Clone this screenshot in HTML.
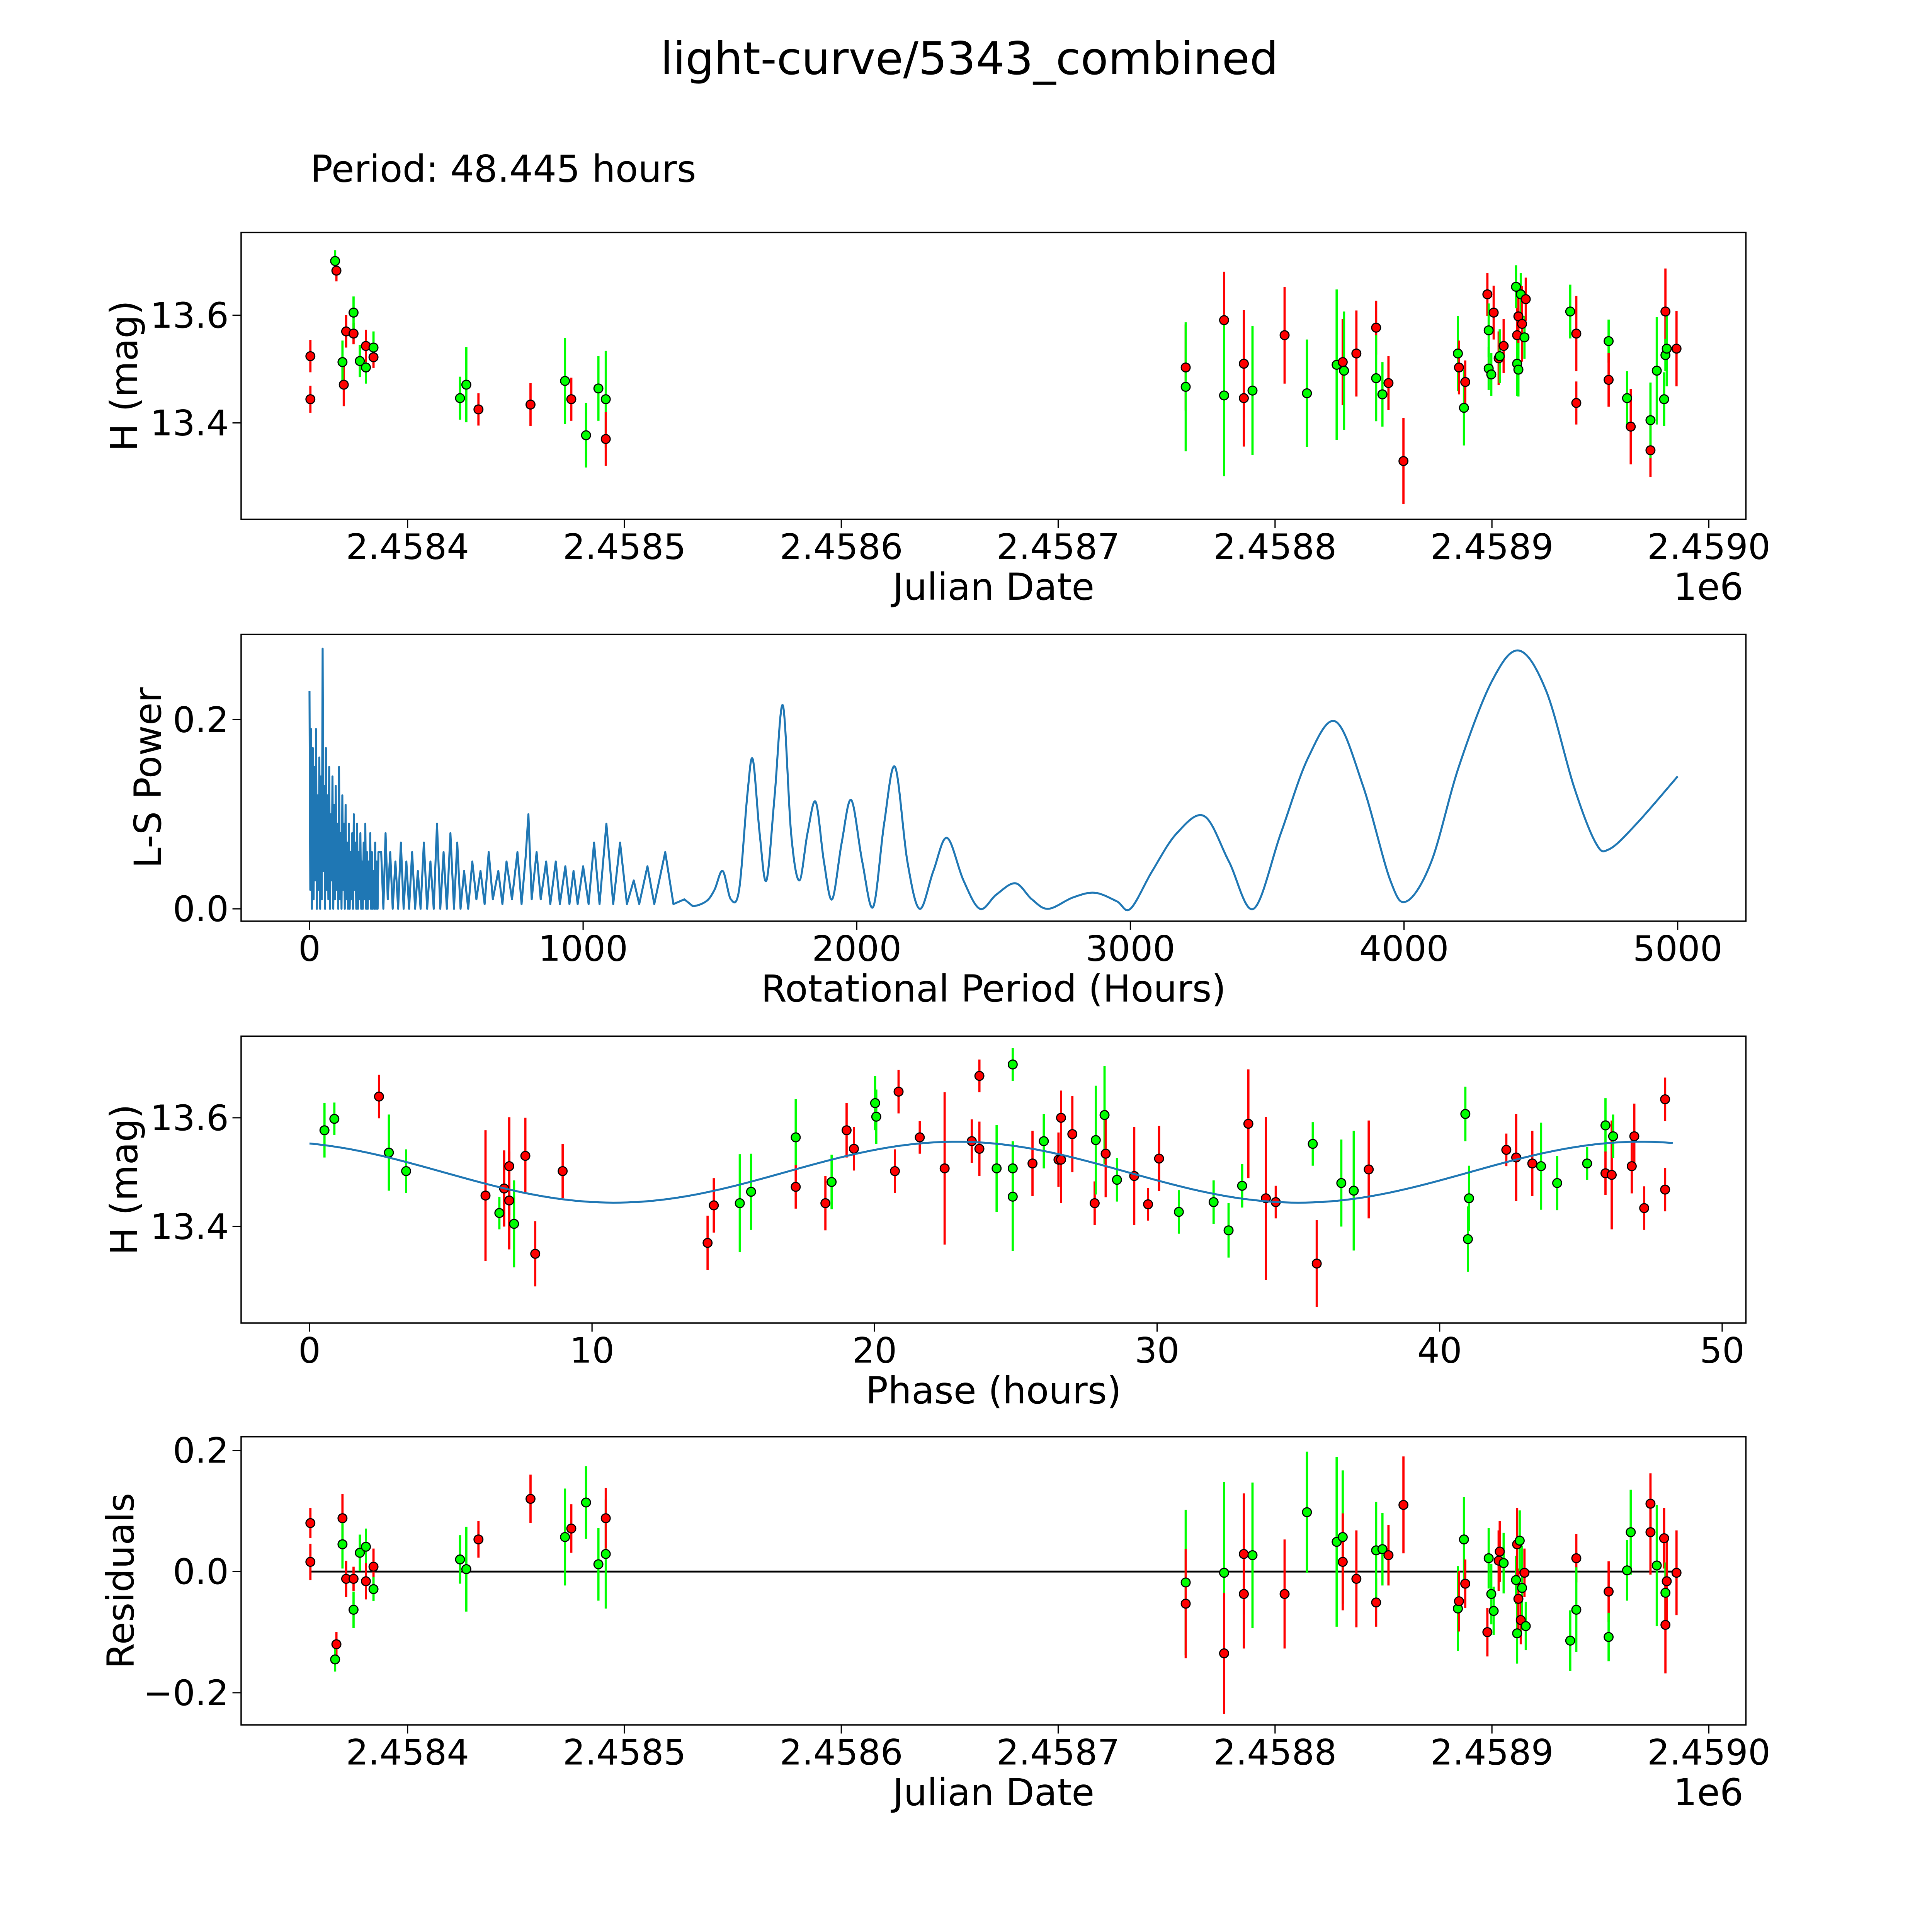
<!DOCTYPE html>
<html><head><meta charset="utf-8"><style>
html,body{margin:0;padding:0;background:#fff;overflow:hidden;width:100vw;height:100vh;}
svg{display:block;position:absolute;left:0;top:0;width:100vw;height:100vh;font-family:"DejaVu Sans","Liberation Sans",sans-serif;}
</style></head><body>
<svg id="fig" viewBox="0 0 1562.5 1562.5" preserveAspectRatio="none" xmlns="http://www.w3.org/2000/svg">
<rect width="1562.5" height="1562.5" fill="#fff"/>
<text x="784" y="60" font-size="36.5" text-anchor="middle">light-curve/5343_combined</text>
<text x="251" y="147" font-size="30">Period: 48.445 hours</text>
<g id="p1"></g>
<g id="p2"></g>
<g id="p3"></g>
<g id="p4"></g>
</svg>
<script>
// ---- Light curve data (days since JD 2458400) ----
const lcDate=[-44.8,-44.8,-33.4,-32.8,-29.4,-30.0,-28.3,-24.9,-24.9,-22.0,-19.2,-19.2,-15.7,-15.7,24.2,27.1,32.7,56.7,72.6,75.5,82.3,88.0,91.4,91.4,
358.8,358.8,376.5,376.5,385.6,385.6,389.6,404.4,414.7,428.4,431.2,431.8,437.5,446.6,446.6,449.5,452.3,459.2,484.3,484.8,487.1,487.7,497.9,498.5,498.5,499.7,500.8,503.1,503.6,505.4,511.1,511.6,511.6,512.2,512.2,513.3,513.9,515.0,515.6,536.1,538.9,538.9,553.8,553.8,562.3,564.0,573.1,573.1,576.0,579.4,580.0,580.0,580.6,585.1];
const lcMag=[13.524,13.444,13.701,13.683,13.471,13.513,13.570,13.566,13.605,13.515,13.503,13.543,13.540,13.522,13.446,13.471,13.425,13.434,13.478,13.444,13.377,13.464,13.444,13.370,
13.503,13.467,13.591,13.451,13.510,13.446,13.460,13.563,13.455,13.508,13.513,13.497,13.529,13.577,13.483,13.453,13.474,13.329,13.529,13.503,13.428,13.476,13.639,13.572,13.501,13.490,13.605,13.520,13.524,13.543,13.653,13.563,13.510,13.598,13.499,13.639,13.584,13.559,13.630,13.607,13.566,13.437,13.552,13.480,13.446,13.393,13.349,13.405,13.497,13.444,13.607,13.526,13.538,13.538];
const lcErr=[0.03,0.025,0.02,0.02,0.04,0.04,0.03,0.02,0.03,0.03,0.03,0.03,0.03,0.02,0.04,0.07,0.03,0.04,0.08,0.04,0.06,0.06,0.09,0.05,
0.08,0.12,0.09,0.15,0.1,0.09,0.12,0.09,0.1,0.14,0.08,0.11,0.08,0.05,0.08,0.06,0.05,0.08,0.07,0.05,0.07,0.04,0.04,0.05,0.04,0.04,0.05,0.05,0.05,0.05,0.04,0.05,0.06,0.05,0.05,0.04,0.07,0.04,0.04,0.05,0.07,0.04,0.04,0.05,0.05,0.07,0.05,0.07,0.1,0.05,0.08,0.03,0.07,0.07];
const lcBand="rrgrrgrrgggrgrggrrgrgggr" + "rgrgrrgrggrgrrggrrgrgrrgggrrgrgrgrggrgrgrrgrgrrgggrgg";

// ---- Periodogram ----
const lsPeriod=[0,3,6,9,12,15,18,21,24,27,30,33,36,39,42,45,48,51,54,57,60,63,66,69,72,75,78,81,84,87,90,93,96,99,102,105,108,111,114,117,120,123,126,129,132,135,138,141,144,147,150,153,156,159,162,165,168,171,174,177,180,183,186,189,192,195,198,201,204,207,210,213,216,219,222,225,228,231,234,237,240,243,246,249,252,
262,270,278,286,295,304,314,324,334,344,354,364,375,386,396,406,418,430,442,454,466,478,490,502,515,528,540,552,565,580,595,610,625,640,655,670,690,705,720,740,760,775,790,800,812,830,845,865,880,900,915,935,950,965,980,1000,1020,1040,1060,1085,1110,1135,1160,1185,1205,1235,1260,1300,1330,1370,1400,
1450,1480,1510,1540,1570,1600,1620,1645,1670,1700,1730,1760,1790,1820,1850,1880,1910,1945,1980,2020,2060,2100,2140,2185,2230,2280,2330,2390,2450,2510,2580,2640,2700,2790,2870,2950,3000,3080,3170,3270,3360,3450,3550,3650,3750,3850,3950,4010,4100,4200,4320,4420,4520,4620,4700,4750,4850,5000];
const lsPower=[0.23,0.02,0.19,0,0.17,0.01,0.15,0.03,0.19,0,0.12,0.02,0.16,0,0.14,0.01,0.275,0.04,0.13,0,0.17,0.02,0.12,0.01,0.15,0,0.1,0.03,0.14,0,0.11,0.01,0.13,0.02,0.09,0,0.15,0.01,0.08,0,0.12,0.02,0.09,0,0.11,0.01,0.07,0,0.09,0,0.06,0.01,0.08,0,0.1,0.02,0.07,0,0.09,0,0.06,0.01,0.08,0,0.05,0,0.07,0.01,0.09,0,0.06,0,0.05,0.01,0.08,0,0.06,0,0.04,0,0.07,0,0.05,0,0.06,
0.06,0,0.08,0.01,0.06,0,0.05,0,0.07,0,0.05,0,0.06,0,0.04,0,0.07,0,0.05,0,0.09,0,0.06,0,0.08,0,0.07,0,0.04,0,0.05,0.01,0.04,0.005,0.06,0.01,0.04,0.005,0.05,0.01,0.06,0.005,0.055,0.1,0.01,0.06,0.01,0.05,0.005,0.05,0.005,0.045,0.005,0.04,0.005,0.045,0.005,0.07,0.005,0.09,0.005,0.07,0.005,0.03,0.005,0.045,0.005,0.06,0.005,0.01,0.003,
0.008,0.02,0.04,0.01,0.02,0.12,0.158,0.08,0.03,0.12,0.215,0.08,0.03,0.08,0.113,0.05,0.01,0.07,0.115,0.05,0.002,0.09,0.15,0.05,0.0,0.04,0.075,0.03,0.0,0.015,0.027,0.01,0.0,0.012,0.017,0.008,0.0,0.04,0.08,0.098,0.05,0.0,0.08,0.16,0.198,0.13,0.03,0.008,0.05,0.15,0.24,0.273,0.23,0.13,0.07,0.063,0.09,0.14];
const lsTicksX=[0,1000,2000,3000,4000,5000];
const lsTicksY=[0.0,0.2];

// ---- Phase folded ----
const phTime=[0.53,0.88,2.46,2.81,3.42,6.23,6.72,6.89,7.07,7.07,7.24,7.64,7.99,8.96,14.09,14.31,15.23,15.63,17.21,17.21,18.26,18.48,19.01,19.27,20.02,20.06,20.72,20.85,21.60,22.48,23.44,23.71,23.71,24.32,24.89,24.89,24.89,25.59,25.99,26.51,26.60,26.60,27.0,27.79,27.83,28.14,28.18,28.58,29.19,29.68,30.07,30.77,32.0,32.53,33.01,33.23,33.85,34.20,35.65,35.51,36.52,36.96,37.49,40.91,41.0,41.04,42.36,42.71,43.28,43.59,44.16,45.22,45.87,45.87,46.09,46.14,46.80,46.89,47.24,47.98,47.98];
const phMag=[13.577,13.598,13.639,13.536,13.502,13.457,13.425,13.470,13.511,13.448,13.405,13.530,13.350,13.502,13.370,13.439,13.443,13.464,13.564,13.473,13.443,13.482,13.577,13.543,13.627,13.602,13.502,13.648,13.564,13.507,13.557,13.677,13.543,13.507,13.698,13.507,13.455,13.516,13.557,13.523,13.600,13.523,13.570,13.443,13.559,13.605,13.534,13.486,13.493,13.441,13.525,13.427,13.445,13.393,13.475,13.589,13.452,13.445,13.332,13.552,13.480,13.466,13.505,13.607,13.377,13.452,13.541,13.527,13.516,13.511,13.480,13.516,13.586,13.498,13.495,13.566,13.511,13.566,13.434,13.468,13.634];
const phErr=[0.05,0.03,0.04,0.07,0.04,0.12,0.03,0.07,0.09,0.09,0.08,0.07,0.06,0.05,0.05,0.05,0.09,0.07,0.07,0.04,0.05,0.05,0.05,0.04,0.05,0.05,0.04,0.04,0.03,0.14,0.04,0.03,0.05,0.08,0.03,0.05,0.1,0.06,0.05,0.05,0.05,0.08,0.07,0.04,0.1,0.09,0.08,0.04,0.09,0.03,0.06,0.04,0.04,0.05,0.04,0.1,0.15,0.03,0.08,0.04,0.08,0.11,0.09,0.05,0.06,0.06,0.03,0.08,0.06,0.08,0.05,0.03,0.05,0.04,0.1,0.04,0.05,0.06,0.04,0.04,0.04];
const phBand="ggrggrgrrrgrrrrrgggrrgrrggrrrrrrrggggrgrrrrrggrgrrrggggrrrrgggrgggrrrggggrrgrrr".padEnd(81,"r");
const modelMean=[13.5], modelAmp=[0.056], modelPeak=[22.9], modelHalfPeriod=[24.22], modelMaxPhase=[48.445];

// ---- Residuals ----
const resDate=[-44.8,-44.8,-32.8,-33.4,-30.0,-30.0,-28.3,-24.9,-24.9,-22.0,-19.2,-19.2,-15.7,-15.7,24.2,27.1,32.7,56.7,72.6,75.5,82.3,88.0,91.4,91.4,
358.8,358.8,376.5,376.5,385.6,385.6,389.6,404.4,414.7,428.4,431.2,431.2,437.5,446.6,446.6,449.5,452.3,459.2,484.3,484.8,487.1,487.7,497.9,498.5,499.7,500.8,503.1,503.6,505.4,511.1,511.6,511.6,512.2,512.8,513.3,513.9,515.0,515.6,536.1,538.9,538.9,553.8,553.8,562.3,564.0,573.1,573.1,576.0,579.4,580.0,580.0,580.6,585.1];
const resVal=[0.080,0.016,-0.120,-0.145,0.088,0.045,-0.012,-0.012,-0.063,0.031,0.041,-0.016,0.008,-0.029,0.020,0.004,0.053,0.120,0.057,0.071,0.114,0.012,0.029,0.088,
-0.018,-0.053,-0.002,-0.135,0.029,-0.037,0.027,-0.037,0.098,0.049,0.057,0.016,-0.012,-0.051,0.035,0.037,0.027,0.110,-0.061,-0.049,0.053,-0.020,-0.100,0.022,-0.037,-0.065,0.018,0.033,0.014,-0.014,-0.102,0.045,-0.045,0.051,-0.080,-0.027,-0.002,-0.090,-0.114,0.022,-0.063,-0.033,-0.108,0.002,0.065,0.112,0.065,0.010,0.055,-0.035,-0.088,-0.016,-0.002];
const resErr=[0.025,0.03,0.02,0.02,0.04,0.04,0.03,0.02,0.03,0.03,0.03,0.03,0.03,0.02,0.04,0.07,0.03,0.04,0.08,0.04,0.06,0.06,0.09,0.05,
0.12,0.09,0.15,0.1,0.1,0.09,0.12,0.09,0.1,0.14,0.11,0.08,0.08,0.04,0.08,0.06,0.05,0.08,0.07,0.05,0.07,0.04,0.04,0.05,0.05,0.04,0.05,0.05,0.05,0.04,0.05,0.06,0.05,0.05,0.04,0.07,0.04,0.04,0.05,0.04,0.07,0.05,0.04,0.05,0.07,0.05,0.07,0.1,0.05,0.05,0.08,0.07,0.07];
const resBand="rrrgrgrrgggrrgggrrgrgggr"+"grgrrrgrgggrrrggrrgrgrrgggrrgggrrgrgrggrgrgggrrgrgrrrggg".padEnd(53,"g");

const NS="http://www.w3.org/2000/svg";
function mk(parent,tag,attrs){const e=document.createElementNS(NS,tag);for(const k in attrs)e.setAttribute(k,attrs[k]);parent.appendChild(e);return e;}
const COL={r:"#ff0000",g:"#00ff00"};
const L=195,R=1412;

function frame(g,top,bot,xticks,xf,xlabels,yticks,yf,ylabels,xtitle,ytitle,ytx,extra){
  const f=mk(g,"rect",{x:L,y:top,width:R-L,height:bot-top,fill:"none",stroke:"#000","stroke-width":1.1});
  
  
  xticks.forEach((v,i)=>{const x=xf(v);
    const t=mk(g,"line",{x1:x,x2:x,y1:bot,y2:bot+7,stroke:"#000","stroke-width":1});
    
    
    const tx=mk(g,"text",{x:x,y:bot+32,"font-size":28.5,"text-anchor":"middle"});tx.textContent=xlabels[i];
    
    
  });
  yticks.forEach((v,i)=>{const y=yf(v);
    const t=mk(g,"line",{x1:L-7,x2:L,y1:y,y2:y,stroke:"#000","stroke-width":1});
    
    
    const tx=mk(g,"text",{x:L-10,y:y+10,"font-size":28.5,"text-anchor":"end"});tx.textContent=ylabels[i];
    
    
  });
  const xt=mk(g,"text",{x:(L+R)/2,y:bot+65,"font-size":30,"text-anchor":"middle"});xt.textContent=xtitle;
  
  
  const cy=(top+bot)/2;
  const yt=mk(g,"text",{x:ytx,y:cy,"font-size":30,"text-anchor":"middle",transform:`rotate(-90 ${ytx} ${cy})`});yt.textContent=ytitle;
  
  
  if(extra){const e=mk(g,"text",{x:1410,y:bot+65,"font-size":30,"text-anchor":"end"});e.textContent=extra;
    
    }
}
function points(g,xs,ys,errs,bands,xf,yf,name){
  const eg=mk(g,"g",{});const pg=mk(g,"g",{});
  for(let i=0;i<xs.length;i++){
    const c=COL[bands[i]]||COL.r,e=errs[i]??0.05,x=xf(xs[i]);
    const l=mk(eg,"line",{x1:x,x2:x,y1:yf(ys[i]-e),y2:yf(ys[i]+e),stroke:c,"stroke-width":1.8});
    
    
    const p=mk(pg,"circle",{cx:x,cy:yf(ys[i]),r:3.6,fill:c,stroke:"#000","stroke-width":0.9});
    
    
  }
}
const jdX=d=>329.6+d*1.754;
const jdTicks=[0,100,200,300,400,500,600],jdLabels=["2.4584","2.4585","2.4586","2.4587","2.4588","2.4589","2.4590"];

// Panel 1
{const g=document.getElementById("p1");const yf=m=>255-(m-13.6)*435;
 frame(g,188,420,jdTicks,jdX,jdLabels,[13.4,13.6],yf,["13.4","13.6"],"Julian Date","H (mag)",111,"1e6");
 points(g,lcDate,lcMag,lcErr,lcBand,jdX,yf,'light-curve-point');}

// Panel 2
{const g=document.getElementById("p2");const xf=p=>250.3+p*0.2213,yf=v=>735-v*765;
 frame(g,513,745,lsTicksX,xf,lsTicksX.map(String),lsTicksY,yf,["0.0","0.2"],"Rotational Period (Hours)","L-S Power",130);
 let d="";let idx=lsPeriod.findIndex(p=>p>=1400);
 for(let i=0;i<=idx;i++)d+=(i?"L":"M")+xf(lsPeriod[i]).toFixed(2)+" "+yf(lsPower[i]).toFixed(2);
 const P=lsPeriod.map((p,i)=>[xf(p),yf(lsPower[i])]);
 for(let i=idx;i<P.length-1;i++){const p0=P[Math.max(i-1,0)],p1=P[i],p2=P[i+1],p3=P[Math.min(i+2,P.length-1)];
   const c1=[p1[0]+(p2[0]-p0[0])/6,p1[1]+(p2[1]-p0[1])/6],c2=[p2[0]-(p3[0]-p1[0])/6,p2[1]-(p3[1]-p1[1])/6];
   d+=`C${c1[0].toFixed(2)} ${c1[1].toFixed(2)} ${c2[0].toFixed(2)} ${c2[1].toFixed(2)} ${p2[0].toFixed(2)} ${p2[1].toFixed(2)}`;}
 const path=mk(g,"path",{d:d,fill:"none",stroke:"#1f77b4","stroke-width":1.6,"stroke-linejoin":"round"});
 
 }

// Panel 3
{const g=document.getElementById("p3");const xf=p=>250.3+p*22.85,yf=m=>904-(m-13.6)*440;
 frame(g,838,1070,[0,10,20,30,40,50],xf,["0","10","20","30","40","50"],[13.4,13.6],yf,["13.4","13.6"],"Phase (hours)","H (mag)",111);
 points(g,phTime,phMag,phErr,phBand,xf,yf,'phase-point');
 let d="";for(let t=0;t<=modelMaxPhase[0];t+=0.25){const m=modelMean[0]+modelAmp[0]*Math.cos(2*Math.PI*(t-modelPeak[0])/modelHalfPeriod[0]);d+=(t?"L":"M")+xf(t).toFixed(2)+" "+yf(m).toFixed(2);}
 const c=mk(g,"path",{d:d,fill:"none",stroke:"#1f77b4","stroke-width":1.6});
 
 }

// Panel 4
{const g=document.getElementById("p4");const yf=r=>1271-r*490;
 frame(g,1162,1395,jdTicks,jdX,jdLabels,[-0.2,0,0.2],yf,["\u22120.2","0.0","0.2"],"Julian Date","Residuals",108,"1e6");
 const z=mk(g,"line",{x1:jdX(-44.8),x2:jdX(585.1),y1:yf(0),y2:yf(0),stroke:"#000","stroke-width":1.5});
 
 
 points(g,resDate,resVal,resErr,resBand,jdX,yf,'residual-point');}
</script>
</body></html>
